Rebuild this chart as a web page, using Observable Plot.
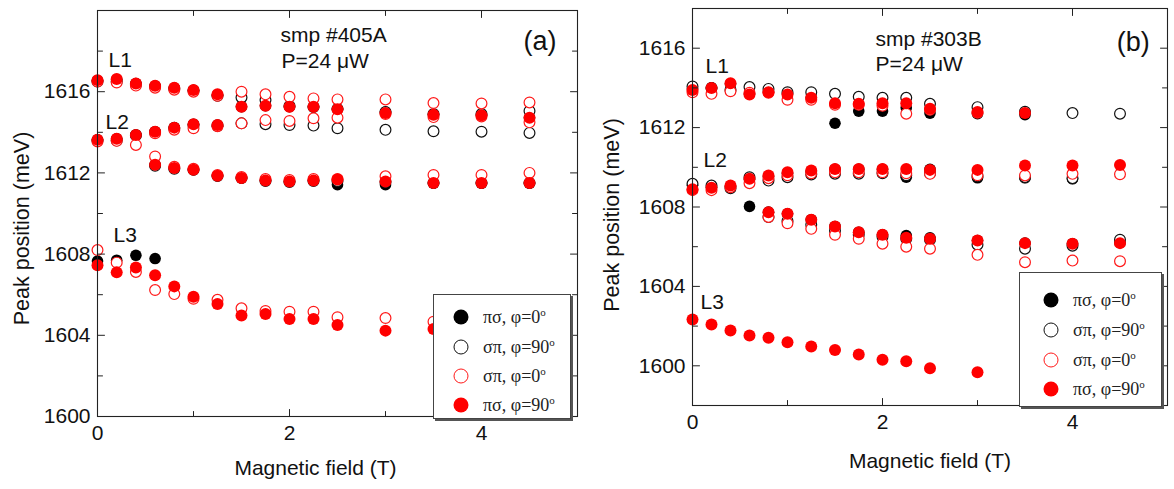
<!DOCTYPE html>
<html>
<head>
<meta charset="utf-8">
<script src="https://cdn.jsdelivr.net/npm/d3@7"></script>
<script src="https://cdn.jsdelivr.net/npm/@observablehq/plot@0.6"></script>
<style>
  html, body { margin: 0; padding: 0; background: #fff; }
  #wrap { position: relative; width: 1174px; height: 489px; overflow: hidden; font-family: "Liberation Sans", Arial, sans-serif; }
  .panel { position: absolute; top: 0; }
  .legend { position: absolute; background: #fff; border: 1px solid #444; box-shadow: 2px 2px 0 #555; box-sizing: border-box; }
  .legend .mk { position: absolute; width: 15px; height: 15px; border-radius: 50%; box-sizing: border-box; transform: translate(-50%, -50%); }
  .legend .lb { position: absolute; transform: translateY(-50%); font-family: "Liberation Serif", "Times New Roman", serif; font-size: 18px; color: #222; white-space: nowrap; }
  .legend .lb sup { font-size: 11px; vertical-align: 7px; line-height: 0; }
</style>
</head>
<body>
<div id="wrap"></div>
<script>
// ---------------- data ----------------
const fieldT = [0, 0.2, 0.4, 0.6, 0.8, 1.0, 1.25, 1.5, 1.75, 2.0, 2.25, 2.5, 3.0, 3.5, 4.0, 4.5];
const seriesLabels = ["πσ, φ=0", "σπ, φ=90", "σπ, φ=0", "πσ, φ=90"];

// Panel (a): smp #405A — branches: upper, middle, lower, L3
const a_piSigma0 = [
  [1616.55,1616.60,1616.40,1616.28,1616.18,1616.07,1615.82,1615.26,1615.31,1615.26,1615.26,1615.15,1615.00,1614.88,1614.85,1614.72],
  [1613.63,1613.68,1613.87,1614.03,1614.23,1614.40,1614.30,null,null,null,null,null,null,null,null,null],
  [null,null,null,1612.40,1612.24,1612.16,1611.86,1611.75,1611.63,1611.58,1611.63,1611.42,1611.42,1611.50,1611.50,1611.50],
  [1607.66,1607.70,1607.94,1607.78,null,null,null,null,null,null,null,null,null,null,null,null]
];
const a_sigmaPi90 = [
  [1616.50,1616.50,1616.35,1616.25,1616.15,1616.05,1615.80,1615.72,1615.59,1615.30,1615.25,1615.15,1615.00,1614.90,1614.90,1615.05],
  [1613.60,1613.60,1613.85,1614.00,1614.20,1614.35,1614.35,1614.44,1614.40,1614.36,1614.33,1614.20,1614.12,1614.05,1614.03,1613.97],
  [null,null,null,1612.35,1612.20,1612.15,1611.85,1611.75,1611.60,1611.55,1611.60,1611.60,1611.55,1611.50,1611.50,1611.50]
];
const a_sigmaPi0 = [
  [1616.50,1616.45,1616.30,1616.20,1616.10,1616.00,1615.80,1616.00,1615.87,1615.75,1615.67,1615.62,1615.62,1615.44,1615.42,1615.47],
  [1613.55,1613.58,1613.38,1613.95,1614.13,1614.20,1614.30,1614.44,1614.60,1614.56,1614.69,1614.72,1614.90,1614.75,1614.78,1614.49],
  [null,null,null,1612.81,1612.30,1612.20,1611.90,1611.80,1611.70,1611.65,1611.70,1611.70,1611.83,1611.90,1611.90,1612.00],
  [1608.20,1607.58,1607.12,1606.23,1606.03,1605.80,1605.75,1605.33,1605.20,1605.16,1605.16,1604.89,1604.85,1604.67,null,null]
];
const a_piSigma90 = [
  [1616.57,1616.62,1616.40,1616.29,1616.19,1616.08,1615.87,1615.26,1615.31,1615.26,1615.26,1615.13,1614.95,1614.87,1614.84,1614.72],
  [1613.63,1613.68,1613.87,1614.03,1614.23,1614.40,1614.36,null,null,null,null,null,null,null,null,null],
  [null,null,null,1612.40,1612.24,1612.16,1611.86,1611.75,1611.63,1611.58,1611.63,1611.67,1611.58,1611.50,1611.50,1611.50],
  [1607.45,1607.10,1607.34,1606.96,1606.41,1605.90,1605.54,1604.97,1605.05,1604.80,1604.80,1604.51,1604.23,1604.31,null,null]
];

// Panel (b): smp #303B — branches: L1, L2, lower, L3
const b_piSigma0 = [
  [1613.95,1614.00,1614.20,1613.70,1613.80,1613.70,1613.50,1612.22,1612.83,1612.83,1613.00,1612.73,1612.70,1612.65,null,null],
  [1609.10,1609.00,1609.05,1609.40,1609.55,1609.70,1609.80,1609.90,1609.90,1609.90,1609.50,1609.90,1609.47,1609.47,1609.42,null],
  [null,null,null,1608.03,1607.74,1607.66,1607.36,1607.02,1606.73,1606.60,1606.56,1606.45,1606.31,1606.18,1606.15,1606.20]
];
const b_sigmaPi90 = [
  [1614.07,1614.00,1613.90,1614.04,1613.95,1613.78,1613.78,1613.70,1613.55,1613.50,1613.50,1613.20,1613.03,1612.80,1612.73,1612.70],
  [1609.17,1609.08,1608.95,1609.50,1609.33,1609.50,1609.64,1609.68,1609.68,1609.70,1609.60,1609.70,1609.55,1609.50,1609.45,null],
  [null,null,null,null,1607.49,1607.30,1607.10,1606.80,1606.60,1606.50,1606.40,1606.35,1606.10,1605.90,1606.05,1606.35]
];
const b_sigmaPi0 = [
  [1613.78,1613.70,1613.83,1613.75,1613.75,1613.40,1613.40,1613.15,1613.15,1613.10,1612.70,1612.90,1612.75,null,null,null],
  [1608.85,1608.85,1609.00,1609.20,1609.45,1609.60,1609.70,1609.75,1609.75,1609.75,1609.70,1609.67,1609.60,1609.59,1609.67,1609.65],
  [null,null,null,null,1607.50,1607.18,1606.90,1606.60,1606.40,1606.15,1606.00,1605.90,1605.59,1605.22,1605.30,1605.27]
];
const b_piSigma90 = [
  [1613.90,1614.00,1614.24,1613.67,1613.78,1613.67,1613.50,1613.23,1613.20,1613.23,1613.23,1612.95,1612.78,1612.73,null,null],
  [1608.90,1608.97,1609.08,1609.42,1609.59,1609.75,1609.84,1609.92,1609.92,1609.92,1609.92,1609.87,1609.87,1610.09,1610.09,1610.12],
  [null,null,null,null,1607.74,1607.66,1607.36,1607.02,1606.73,1606.60,1606.45,1606.40,1606.31,1606.18,1606.15,1606.18],
  [1602.33,1602.08,1601.78,1601.53,1601.41,1601.19,1600.97,1600.80,1600.57,1600.30,1600.23,1599.88,1599.68,null,null,null]
];

// axes / ticks
const xTickLabels = [0, 2, 4];
const xMinorTicks = [1, 3];
const aYTickLabels = [1600, 1604, 1608, 1612, 1616];
const aYMinorTicks = [1602, 1606, 1610, 1614, 1618];
const bYTickLabels = [1600, 1604, 1608, 1612, 1616];
const bYMinorTicks = [1602, 1606, 1610, 1614];
const xTitle = "Magnetic field (T)";
const yTitle = "Peak position (meV)";

// annotations
const aNoteText = ["smp #405A", "P=24 μW", "L1", "L2", "L3"];
const aNoteX = [1.906, 1.917, 0.115, 0.083, 0.167];
const aNoteY = [1618.77, 1617.50, 1617.55, 1614.49, 1608.92];
const bNoteText = ["smp #303B", "P=24 μW", "L1", "L2", "L3"];
const bNoteX = [1.926, 1.926, 0.137, 0.116, 0.084];
const bNoteY = [1616.46, 1615.20, 1615.08, 1610.37, 1603.21];
const panelTag = ["(a)", "(b)"];

// ---------------- build ----------------
const seriesStyle = [
  {fill: "#000", stroke: "none", r: 5.8},
  {fill: "#fff", stroke: "#111", r: 5.4, strokeWidth: 1.2},
  {fill: "#fff", stroke: "#ff1a1a", r: 5.4, strokeWidth: 1.2},
  {fill: "#ff0000", stroke: "none", r: 6.0}
];

function toRows(branches) {
  const out = [];
  for (const b of branches) b.forEach((v, i) => { if (v != null) out.push({x: fieldT[i], y: v}); });
  return out;
}

const tickShape = {draw(ctx, l) { ctx.moveTo(0, 0); ctx.lineTo(0, -l); }};

function tickMarks(xMaj, xMin, yMaj, yMin) {
  const s = {stroke: "#222", strokeWidth: 1, anchor: "start", shape: tickShape};
  return [
    Plot.vector(xMaj, {...s, x: d => d, frameAnchor: "bottom", rotate: 0, length: 7}),
    Plot.vector(xMin, {...s, x: d => d, frameAnchor: "bottom", rotate: 0, length: 5}),
    Plot.vector(xMaj, {...s, x: d => d, frameAnchor: "top", rotate: 180, length: 7}),
    Plot.vector(xMin, {...s, x: d => d, frameAnchor: "top", rotate: 180, length: 5}),
    Plot.vector(yMaj, {...s, y: d => d, frameAnchor: "left", rotate: 90, length: 7}),
    Plot.vector(yMin, {...s, y: d => d, frameAnchor: "left", rotate: 90, length: 5}),
    Plot.vector(yMaj, {...s, y: d => d, frameAnchor: "right", rotate: -90, length: 7}),
    Plot.vector(yMin, {...s, y: d => d, frameAnchor: "right", rotate: -90, length: 5})
  ];
}

function makePanel(cfg) {
  const seriesData = cfg.series.map(toRows);
  const notes = cfg.noteText.map((t, i) => ({t, x: cfg.noteX[i], y: cfg.noteY[i]}));
  return Plot.plot({
    width: 587, height: 489,
    marginLeft: cfg.ml, marginRight: cfg.mr, marginTop: cfg.mt, marginBottom: cfg.mb,
    x: {domain: [0, 5]},
    y: {domain: cfg.yDomain},
    style: {fontFamily: "'Liberation Sans', Arial, sans-serif", background: "transparent", color: "#111", overflow: "visible"},
    marks: [
      ...seriesData.map((rows, k) => Plot.dot(rows, {x: "x", y: "y", ...seriesStyle[k]})),
      Plot.frame({stroke: "#222", strokeWidth: 1.1}),
      ...tickMarks(xTickLabels, xMinorTicks, cfg.yLabels, cfg.yMinor),
      Plot.axisX(xTickLabels, {anchor: "bottom", tickSize: 0, tickPadding: cfg.xPad, fontSize: 21, label: null, tickFormat: d => `${d}`, fill: "#111"}),
      Plot.axisY(cfg.yLabels, {anchor: "left", tickSize: 0, tickPadding: 7, fontSize: 21, label: null, tickFormat: d => `${d}`, fill: "#111"}),
      Plot.text([xTitle], {frameAnchor: "bottom", textAnchor: "middle", lineAnchor: "middle", dx: cfg.xtDx, dy: cfg.xtDy, fontSize: 21, fill: "#111"}),
      Plot.text([yTitle], {frameAnchor: "left", textAnchor: "middle", lineAnchor: "middle", rotate: -90, dx: cfg.ytDx, dy: cfg.ytDy, fontSize: 21.5, fill: "#111"}),
      Plot.text(notes, {x: "x", y: "y", text: "t", textAnchor: "start", fontSize: 21, fill: "#111"}),
      Plot.text([cfg.tag], {x: cfg.tagX, y: cfg.tagY, fontSize: 27, fill: "#111"})
    ]
  });
}

const wrap = document.getElementById("wrap");

const plotA = makePanel({
  series: [a_piSigma0, a_sigmaPi90, a_sigmaPi0, a_piSigma90],
  ml: 97, mr: 10, mt: 10, mb: 73, yDomain: [1600, 1620],
  yLabels: aYTickLabels, yMinor: aYMinorTicks, xPad: 9,
  xtDx: -22, xtDy: 52, ytDx: -75, ytDy: 15,
  noteText: aNoteText, noteX: aNoteX, noteY: aNoteY,
  tag: panelTag[0], tagX: 4.61, tagY: 1618.48
});
plotA.classList.add("panel");
plotA.style.left = "0px";
wrap.appendChild(plotA);

const plotB = makePanel({
  series: [b_piSigma0, b_sigmaPi90, b_sigmaPi0, b_piSigma90],
  ml: 105, mr: 7, mt: 8, mb: 84, yDomain: [1598, 1618],
  yLabels: bYTickLabels, yMinor: bYMinorTicks, xPad: 9,
  xtDx: 0, xtDy: 56, ytDx: -80, ytDy: 8,
  noteText: bNoteText, noteX: bNoteX, noteY: bNoteY,
  tag: panelTag[1], tagX: 4.64, tagY: 1616.29
});
plotB.classList.add("panel");
plotB.style.left = "587px";
wrap.appendChild(plotB);

// legends
const legendMarkerCss = [
  "background:#000;",
  "background:#fff;border:1.3px solid #111;",
  "background:#fff;border:1.3px solid #ff1a1a;",
  "background:#ff0000;"
];
function makeLegend(box, rowsTop, mkX, txtX) {
  const div = document.createElement("div");
  div.className = "legend";
  div.style.cssText = `left:${box[0]}px;top:${box[1]}px;width:${box[2]}px;height:${box[3]}px;`;
  seriesLabels.forEach((lab, i) => {
    const mk = document.createElement("div");
    mk.className = "mk";
    mk.style.cssText = `left:${mkX}px;top:${rowsTop[i]}px;` + legendMarkerCss[i];
    const lb = document.createElement("div");
    lb.className = "lb";
    lb.style.left = txtX + "px";
    lb.style.top = rowsTop[i] + "px";
    lb.innerHTML = lab + "<sup>o</sup>";
    div.appendChild(mk);
    div.appendChild(lb);
  });
  wrap.appendChild(div);
}
makeLegend([433, 294, 138, 125], [22, 52, 81, 110], 27, 49);
makeLegend([1019, 272, 143, 135], [27, 57, 87, 116], 31, 53);
</script>
</body>
</html>
